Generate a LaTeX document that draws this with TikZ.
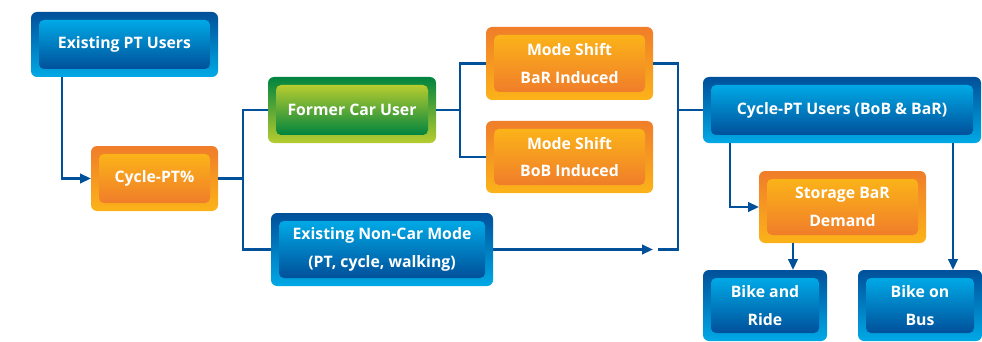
\documentclass[tikz,border=0pt]{standalone}
\usepackage{fontspec}
\setmainfont{Open Sans}
\usetikzlibrary{arrows.meta}
\definecolor{bluedark}{HTML}{00509A}
\definecolor{bluelight}{HTML}{00A9E6}
\definecolor{orangedark}{HTML}{F07D2A}
\definecolor{orangelight}{HTML}{FBB319}
\definecolor{greendark}{HTML}{00843F}
\definecolor{greenlight}{HTML}{B7CC2F}
\definecolor{linecol}{HTML}{00509A}
\tikzset{
  outerbox/.style={rounded corners=6pt, inner sep=0pt, outer sep=0pt},
  innerbox/.style={rounded corners=5pt, inner sep=0pt, outer sep=0pt},
  lbl/.style={text=white, font=\bfseries\fontsize{15.8}{27.5}\selectfont, align=center, inner sep=0pt},
  conn/.style={draw=linecol, line width=2.4pt},
  arr/.style={conn, -{Triangle[length=11pt,width=9.5pt]}}
}
% name, cx, cy, w, h, colour, text
\newcommand\diabox[7]{%
  \node[outerbox, minimum width=#4pt, minimum height=#5pt, top color=#6dark, bottom color=#6light] (#1) at (#2,#3) {};
  \node[innerbox, minimum width=#4pt-16pt, minimum height=#5pt-16pt, top color=#6light, bottom color=#6dark] (#1-in) at (#1) {};
  \node[lbl] (#1-t) at (#1) {#7};
}
\begin{document}
\begin{tikzpicture}[x=1pt,y=-1pt]
\useasboundingbox (0,0) rectangle (982,342);
\diabox{ptu}{124.5}{44.5}{187}{65}{blue}{Existing PT Users}
\diabox{cpt}{154.5}{178.5}{127}{65}{orange}{Cycle-PT\%}
\diabox{fcu}{352}{110}{168}{66}{green}{Former Car User}
\diabox{ncm}{382}{249.5}{222}{73}{blue}{Existing Non-Car Mode\\(PT, cycle, walking)}
\diabox{bar}{569.5}{63.5}{167}{73}{orange}{Mode Shift\\BaR Induced}
\diabox{bob}{569.5}{157}{167}{72}{orange}{Mode Shift\\BoB Induced}
\diabox{cpu}{842}{110}{278}{66}{blue}{Cycle-PT Users (BoB \& BaR)}
\diabox{sbd}{842.5}{207}{167}{72}{orange}{Storage BaR\\Demand}
\diabox{bnr}{765}{305.5}{124}{71}{blue}{Bike and\\Ride}
\diabox{bus}{920}{305.5}{124}{71}{blue}{Bike on\\Bus}
\coordinate (j1) at (243,178.5);
\coordinate (j2) at (460,110);
\coordinate (j3) at (678,110);
\coordinate (g1) at (653,249.5);
\coordinate (g2) at (658,249.5);
\draw[arr] ([xshift=31pt]ptu.south west) |- (cpt.west);
\draw[conn] (cpt.east) -- (j1);
\draw[conn] (fcu.west) -| (j1) |- (ncm.west);
\draw[conn] (fcu.east) -- (j2);
\draw[conn] (bar.west) -| (j2) |- (bob.west);
\draw[conn] (bar.east) -| (j3) |- (g2);
\draw[conn] (j3) -- (cpu.west);
\draw[arr] (ncm.east) -- (g1);
\draw[arr] ([xshift=27pt]cpu.south west) |- (sbd.west);
\draw[arr] ([xshift=34pt]sbd.south west) -- ([xshift=90pt]bnr.north west);
\draw[arr] ([xshift=250pt]cpu.south west) -- ([xshift=95pt]bus.north west);
\end{tikzpicture}
\end{document}
